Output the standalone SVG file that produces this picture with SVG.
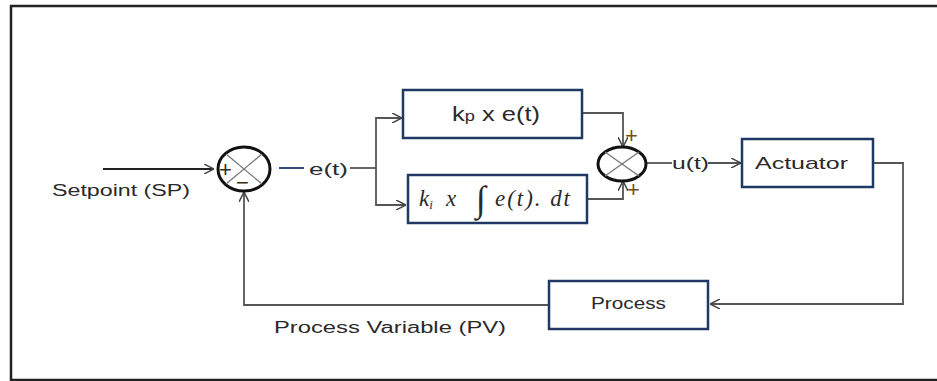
<svg xmlns="http://www.w3.org/2000/svg" width="937" height="381" viewBox="0 0 937 381">
<defs>
<style>
.ln{fill:none;stroke:#555;stroke-width:1.8}
.box{fill:#fff;stroke:#1f3864;stroke-width:2.5}
.sum{fill:#fff;stroke:#111;stroke-width:3}
.x{stroke:#777;stroke-width:1.3}
.t{font-family:"Liberation Sans",Arial,sans-serif;fill:#2a2a2a}
.m{font-family:"Liberation Serif","Times New Roman",serif;font-style:italic;fill:#2a2a2a;font-size:21px}
.s{font-family:"Liberation Sans",Arial,sans-serif;fill:#7a4a12;font-size:22px}
</style>
<marker id="ah" viewBox="0 0 10 10" refX="10" refY="5" markerWidth="10" markerHeight="10" markerUnits="userSpaceOnUse" orient="auto">
<path d="M0,0 L10,5 L0,10" fill="none" stroke="#444" stroke-width="1.5"/>
</marker>
</defs>
<rect x="11" y="6" width="940" height="374" fill="#fff" stroke="#222" stroke-width="2.5"/>
<g id="connectors">
<line class="ln" x1="103" y1="169" x2="214" y2="169" marker-end="url(#ah)" style="stroke:#222"/>
<line x1="279" y1="168" x2="304" y2="168" stroke="#1f3864" stroke-width="1.8"/>
<polyline class="ln" points="350,168 376,168"/>
<polyline class="ln" points="376,168 376,118 402,118" marker-end="url(#ah)"/>
<polyline class="ln" points="376,168 376,205 406,205" marker-end="url(#ah)"/>
<polyline class="ln" points="582,113 623,113 623,147" marker-end="url(#ah)"/>
<polyline class="ln" points="587,199 623,199 623,181" marker-end="url(#ah)"/>
<line class="ln" x1="646" y1="163" x2="672" y2="163"/>
<line class="ln" x1="708" y1="163" x2="741" y2="163" marker-end="url(#ah)"/>
<polyline class="ln" points="873,163 903,163 903,304 710,304" marker-end="url(#ah)"/>
<polyline class="ln" points="549,305 244,305 244,192" marker-end="url(#ah)"/>
</g>
<g id="sum1">
<ellipse class="sum" cx="244" cy="169" rx="26" ry="22"/>
<line class="x" x1="226" y1="154" x2="262" y2="184"/>
<line class="x" x1="262" y1="154" x2="226" y2="184"/>
<text class="s" x="219" y="177" style="fill:#3a2a10">+</text>
<text class="s" x="236" y="190" style="fill:#3a2a10">−</text>
</g>
<g id="sum2">
<ellipse class="sum" cx="622" cy="164" rx="24" ry="17"/>
<line class="x" x1="605" y1="152" x2="639" y2="176"/>
<line class="x" x1="639" y1="152" x2="605" y2="176"/>
<text class="s" x="625" y="143">+</text>
<text class="s" x="627" y="197">+</text>
</g>
<g id="kp">
<rect class="box" x="403" y="90" width="179" height="48"/>
<text class="t" x="452" y="121" font-size="21" textLength="88" lengthAdjust="spacingAndGlyphs">k<tspan font-size="15">p</tspan> x e(t)</text>
</g>
<g id="ki">
<rect class="box" x="408" y="175" width="179" height="48"/>
<text class="m" x="419" y="206" style="font-size:23px">k<tspan style="font-size:13px" dy="3">i</tspan></text>
<text class="m" x="446" y="206" style="font-size:23px">x</text>
<text class="m" x="476" y="211" style="font-size:36px;font-style:normal">∫</text>
<text class="m" x="495" y="206" style="font-size:23px" textLength="75" lengthAdjust="spacing">e(t). dt</text>
</g>
<g id="actuator">
<rect class="box" x="742" y="139" width="131" height="48"/>
<text class="t" x="755" y="169" font-size="17" textLength="93" lengthAdjust="spacingAndGlyphs">Actuator</text>
</g>
<g id="process">
<rect class="box" x="549" y="281" width="159" height="48"/>
<text class="t" x="591" y="309" font-size="17" textLength="75" lengthAdjust="spacingAndGlyphs">Process</text>
</g>
<g id="labels">
<text class="t" x="52" y="196" font-size="16" textLength="138" lengthAdjust="spacingAndGlyphs">Setpoint (SP)</text>
<text class="t" x="309" y="175" font-size="17" textLength="39" lengthAdjust="spacingAndGlyphs">e(t)</text>
<text class="t" x="672" y="169" font-size="17" textLength="37" lengthAdjust="spacingAndGlyphs">u(t)</text>
<text class="t" x="274" y="333" font-size="16" textLength="232" lengthAdjust="spacingAndGlyphs">Process Variable (PV)</text>
</g>
</svg>
